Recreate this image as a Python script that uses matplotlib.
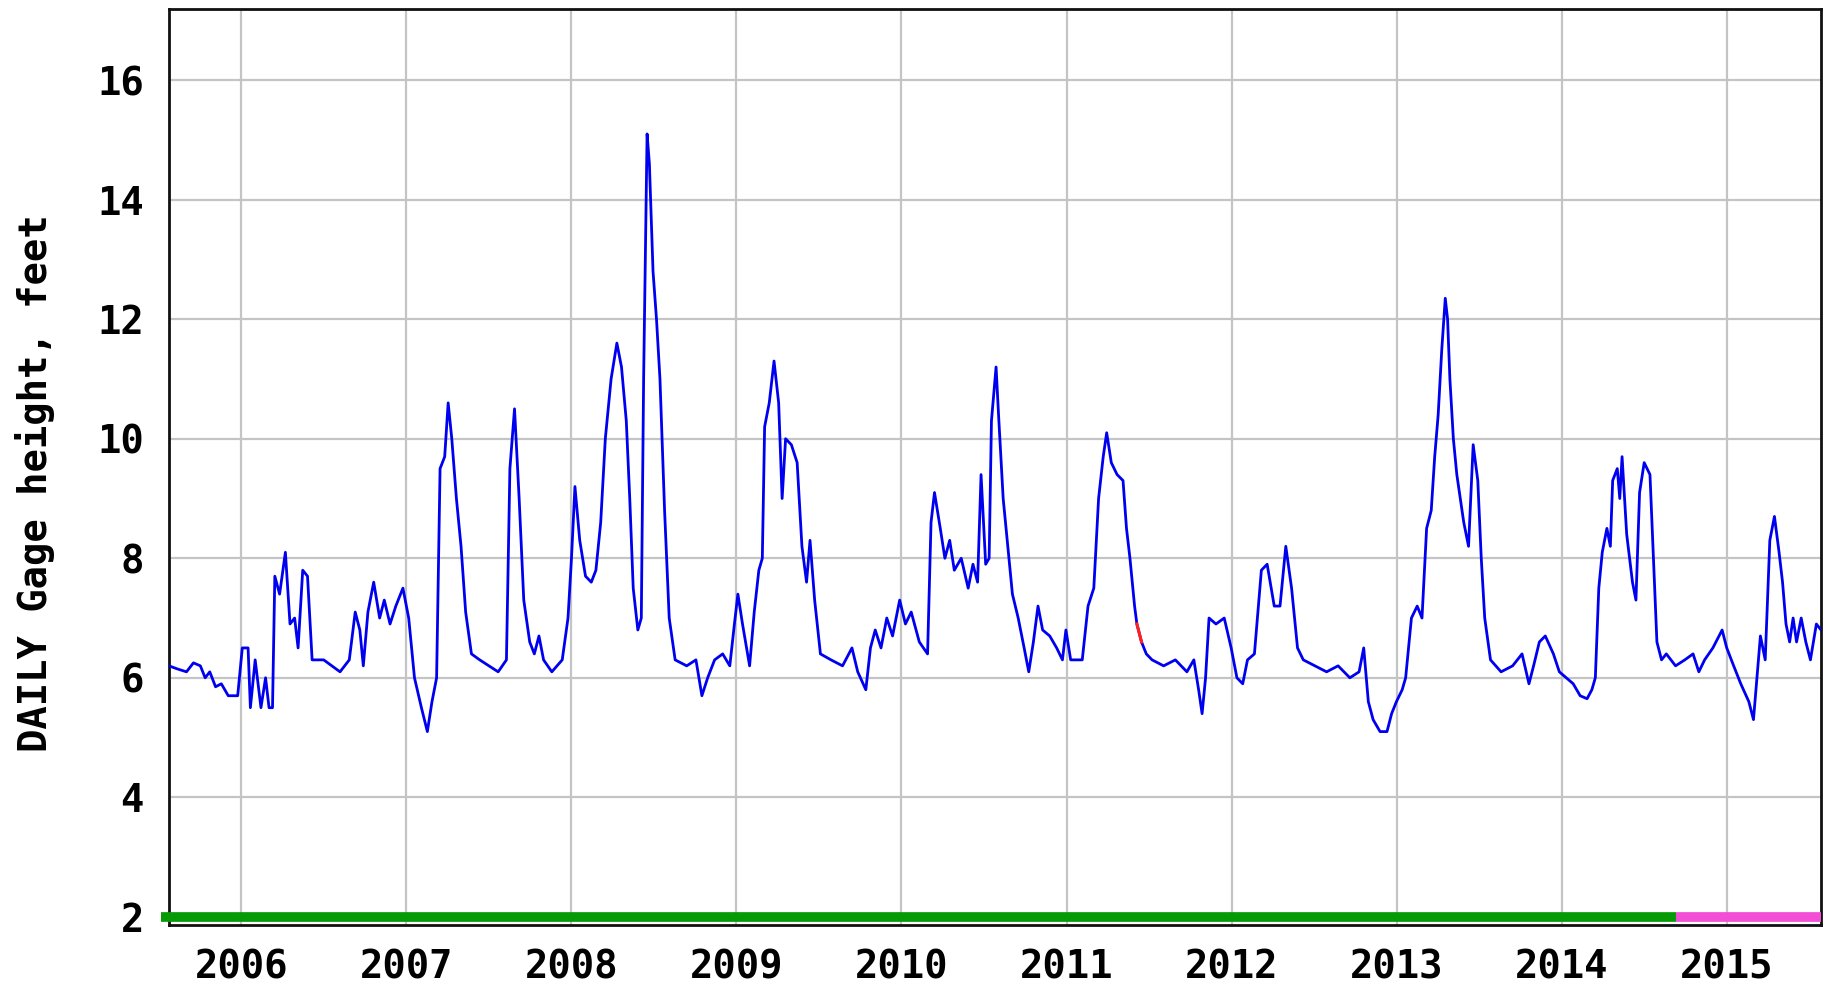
import matplotlib
matplotlib.use("Agg")
import matplotlib.pyplot as plt

# ---- data (decimal year, daily gage height in feet) ----
years = [
    2005.563, 2005.612, 2005.669, 2005.711, 2005.753, 2005.782, 2005.810, 2005.845, 2005.880, 2005.922,
    2005.979, 2006.007, 2006.042, 2006.056, 2006.085, 2006.120, 2006.148, 2006.169, 2006.190, 2006.204,
    2006.233, 2006.268, 2006.296, 2006.324, 2006.345, 2006.373, 2006.402, 2006.430, 2006.500, 2006.550,
    2006.599, 2006.655, 2006.691, 2006.719, 2006.740, 2006.768, 2006.803, 2006.839, 2006.867, 2006.902,
    2006.937, 2006.980, 2007.015, 2007.050, 2007.092, 2007.128, 2007.156, 2007.184, 2007.205, 2007.233,
    2007.254, 2007.276, 2007.304, 2007.332, 2007.360, 2007.395, 2007.445, 2007.501, 2007.557, 2007.607,
    2007.628, 2007.656, 2007.684, 2007.712, 2007.748, 2007.776, 2007.804, 2007.832, 2007.882, 2007.945,
    2007.980, 2008.001, 2008.022, 2008.051, 2008.086, 2008.121, 2008.149, 2008.178, 2008.206, 2008.241,
    2008.276, 2008.304, 2008.333, 2008.354, 2008.375, 2008.403, 2008.424, 2008.438, 2008.459, 2008.473,
    2008.495, 2008.516, 2008.537, 2008.565, 2008.593, 2008.629, 2008.699, 2008.755, 2008.791, 2008.826,
    2008.868, 2008.917, 2008.960, 2008.988, 2009.009, 2009.037, 2009.080, 2009.108, 2009.136, 2009.157,
    2009.171, 2009.199, 2009.228, 2009.256, 2009.277, 2009.298, 2009.333, 2009.368, 2009.397, 2009.425,
    2009.446, 2009.474, 2009.509, 2009.573, 2009.643, 2009.700, 2009.735, 2009.784, 2009.812, 2009.841,
    2009.876, 2009.911, 2009.946, 2009.989, 2010.024, 2010.059, 2010.108, 2010.158, 2010.179, 2010.200,
    2010.235, 2010.263, 2010.292, 2010.320, 2010.362, 2010.404, 2010.433, 2010.461, 2010.482, 2010.510,
    2010.531, 2010.545, 2010.573, 2010.588, 2010.616, 2010.644, 2010.672, 2010.707, 2010.743, 2010.771,
    2010.799, 2010.827, 2010.855, 2010.898, 2010.940, 2010.975, 2010.996, 2011.025, 2011.095, 2011.130,
    2011.165, 2011.194, 2011.222, 2011.243, 2011.271, 2011.306, 2011.342, 2011.363, 2011.384, 2011.412,
    2011.426, 2011.454, 2011.483, 2011.518, 2011.588, 2011.659, 2011.729, 2011.771, 2011.800, 2011.821,
    2011.842, 2011.863, 2011.905, 2011.955, 2011.997, 2012.032, 2012.067, 2012.096, 2012.138, 2012.180,
    2012.215, 2012.258, 2012.293, 2012.328, 2012.363, 2012.399, 2012.434, 2012.504, 2012.575, 2012.645,
    2012.716, 2012.772, 2012.800, 2012.828, 2012.857, 2012.899, 2012.941, 2012.969, 2012.998, 2013.033,
    2013.054, 2013.089, 2013.124, 2013.153, 2013.181, 2013.209, 2013.230, 2013.251, 2013.273, 2013.294,
    2013.308, 2013.322, 2013.343, 2013.364, 2013.385, 2013.406, 2013.435, 2013.463, 2013.491, 2013.512,
    2013.533, 2013.568, 2013.632, 2013.702, 2013.759, 2013.801, 2013.829, 2013.864, 2013.900, 2013.949,
    2013.985, 2014.027, 2014.069, 2014.111, 2014.153, 2014.182, 2014.203, 2014.224, 2014.245, 2014.273,
    2014.294, 2014.308, 2014.336, 2014.351, 2014.365, 2014.393, 2014.428, 2014.449, 2014.471, 2014.499,
    2014.534, 2014.555, 2014.576, 2014.604, 2014.633, 2014.689, 2014.745, 2014.795, 2014.830, 2014.865,
    2014.915, 2014.971, 2014.999, 2015.041, 2015.084, 2015.133, 2015.161, 2015.182, 2015.203, 2015.232,
    2015.260, 2015.288, 2015.316, 2015.337, 2015.358, 2015.380, 2015.401, 2015.422, 2015.450, 2015.478,
    2015.506, 2015.542, 2015.570,
]
gage_height = [
    6.2, 6.15, 6.1, 6.25, 6.2, 6.0, 6.1, 5.85, 5.9, 5.7,
    5.7, 6.5, 6.5, 5.5, 6.3, 5.5, 6.0, 5.5, 5.5, 7.7,
    7.4, 8.1, 6.9, 7.0, 6.5, 7.8, 7.7, 6.3, 6.3, 6.2,
    6.1, 6.3, 7.1, 6.8, 6.2, 7.1, 7.6, 7.0, 7.3, 6.9,
    7.2, 7.5, 7.0, 6.0, 5.5, 5.1, 5.6, 6.0, 9.5, 9.7,
    10.6, 10.0, 9.0, 8.2, 7.1, 6.4, 6.3, 6.2, 6.1, 6.3,
    9.5, 10.5, 9.0, 7.3, 6.6, 6.4, 6.7, 6.3, 6.1, 6.3,
    7.0, 8.0, 9.2, 8.3, 7.7, 7.6, 7.8, 8.6, 10.0, 11.0,
    11.6, 11.2, 10.3, 9.0, 7.5, 6.8, 7.0, 11.0, 15.1, 14.6,
    12.8, 12.0, 11.0, 8.8, 7.0, 6.3, 6.2, 6.3, 5.7, 6.0,
    6.3, 6.4, 6.2, 6.9, 7.4, 6.9, 6.2, 7.1, 7.8, 8.0,
    10.2, 10.6, 11.3, 10.6, 9.0, 10.0, 9.9, 9.6, 8.2, 7.6,
    8.3, 7.3, 6.4, 6.3, 6.2, 6.5, 6.1, 5.8, 6.5, 6.8,
    6.5, 7.0, 6.7, 7.3, 6.9, 7.1, 6.6, 6.4, 8.6, 9.1,
    8.5, 8.0, 8.3, 7.8, 8.0, 7.5, 7.9, 7.6, 9.4, 7.9,
    8.0, 10.3, 11.2, 10.4, 9.0, 8.2, 7.4, 7.0, 6.5, 6.1,
    6.6, 7.2, 6.8, 6.7, 6.5, 6.3, 6.8, 6.3, 6.3, 7.2,
    7.5, 9.0, 9.7, 10.1, 9.6, 9.4, 9.3, 8.5, 8.0, 7.2,
    6.9, 6.6, 6.4, 6.3, 6.2, 6.3, 6.1, 6.3, 5.8, 5.4,
    6.0, 7.0, 6.9, 7.0, 6.5, 6.0, 5.9, 6.3, 6.4, 7.8,
    7.9, 7.2, 7.2, 8.2, 7.5, 6.5, 6.3, 6.2, 6.1, 6.2,
    6.0, 6.1, 6.5, 5.6, 5.3, 5.1, 5.1, 5.4, 5.6, 5.8,
    6.0, 7.0, 7.2, 7.0, 8.5, 8.8, 9.7, 10.4, 11.5, 12.35,
    12.0, 11.0, 10.0, 9.4, 9.0, 8.6, 8.2, 9.9, 9.3, 8.0,
    7.0, 6.3, 6.1, 6.2, 6.4, 5.9, 6.2, 6.6, 6.7, 6.4,
    6.1, 6.0, 5.9, 5.7, 5.65, 5.8, 6.0, 7.5, 8.1, 8.5,
    8.2, 9.3, 9.5, 9.0, 9.7, 8.4, 7.6, 7.3, 9.1, 9.6,
    9.4, 8.0, 6.6, 6.3, 6.4, 6.2, 6.3, 6.4, 6.1, 6.3,
    6.5, 6.8, 6.5, 6.2, 5.9, 5.6, 5.3, 6.0, 6.7, 6.3,
    8.3, 8.7, 8.1, 7.6, 6.9, 6.6, 7.0, 6.6, 7.0, 6.6,
    6.3, 6.9, 6.8,
]

# estimated-value segment (drawn in red)
estimated_years = [2011.426, 2011.454]
estimated_height = [6.9, 6.6]

# data-approval bar along the bottom
bar_level = 2
approved_period = [2005.515, 2014.689]     # green: approved
provisional_period = [2014.689, 2015.570]  # magenta: provisional

year_ticks = [2006, 2007, 2008, 2009, 2010, 2011, 2012, 2013, 2014, 2015]
year_labels = ["2006", "2007", "2008", "2009", "2010", "2011", "2012", "2013", "2014", "2015"]
height_ticks = [2, 4, 6, 8, 10, 12, 14, 16]
height_labels = ["2", "4", "6", "8", "10", "12", "14", "16"]

# ---- figure ----
W, H = 1825, 989
fig = plt.figure(figsize=(W / 100, H / 100), dpi=100)
L, R, T, B = 169, 1821, 9, 925
ax = fig.add_axes([L / W, 1 - B / H, (R - L) / W, (B - T) / H])

font = dict(family="DejaVu Sans Mono", weight="bold", size=28)

ax.plot(years, gage_height, color="#0000f0", lw=2.0, zorder=3)
ax.plot(estimated_years, estimated_height, color="#ff2020", lw=2.2, zorder=4)

ax.plot(approved_period, [bar_level, bar_level], color="#079a07", lw=7,
        solid_capstyle="butt", clip_on=False, zorder=5)
ax.plot(provisional_period, [bar_level, bar_level], color="#f24fd6", lw=7,
        solid_capstyle="butt", clip_on=False, zorder=5)

ax.set_xlim(2005.563, 2015.570)
ax.set_ylim(1.864, 17.19)

ax.set_xticks(year_ticks)
ax.set_xticklabels(year_labels, fontdict=font)
ax.set_yticks(height_ticks)
ax.set_yticklabels(height_labels, fontdict=font)
ax.tick_params(axis="both", length=0, colors="#000000")
ax.tick_params(axis="y", pad=18)
ax.tick_params(axis="x", pad=17)

ax.grid(True, color="#c4c4c4", lw=1.6, zorder=0)
ax.set_axisbelow(True)
for s in ax.spines.values():
    s.set_color("#111111")
    s.set_linewidth(2.0)

fig.text(35 / W, 1 - 483 / H, "DAILY Gage height, feet", rotation=90,
         ha="center", va="center", color="#000000", **font)

fig.savefig("out.png", dpi=100, facecolor="white")
